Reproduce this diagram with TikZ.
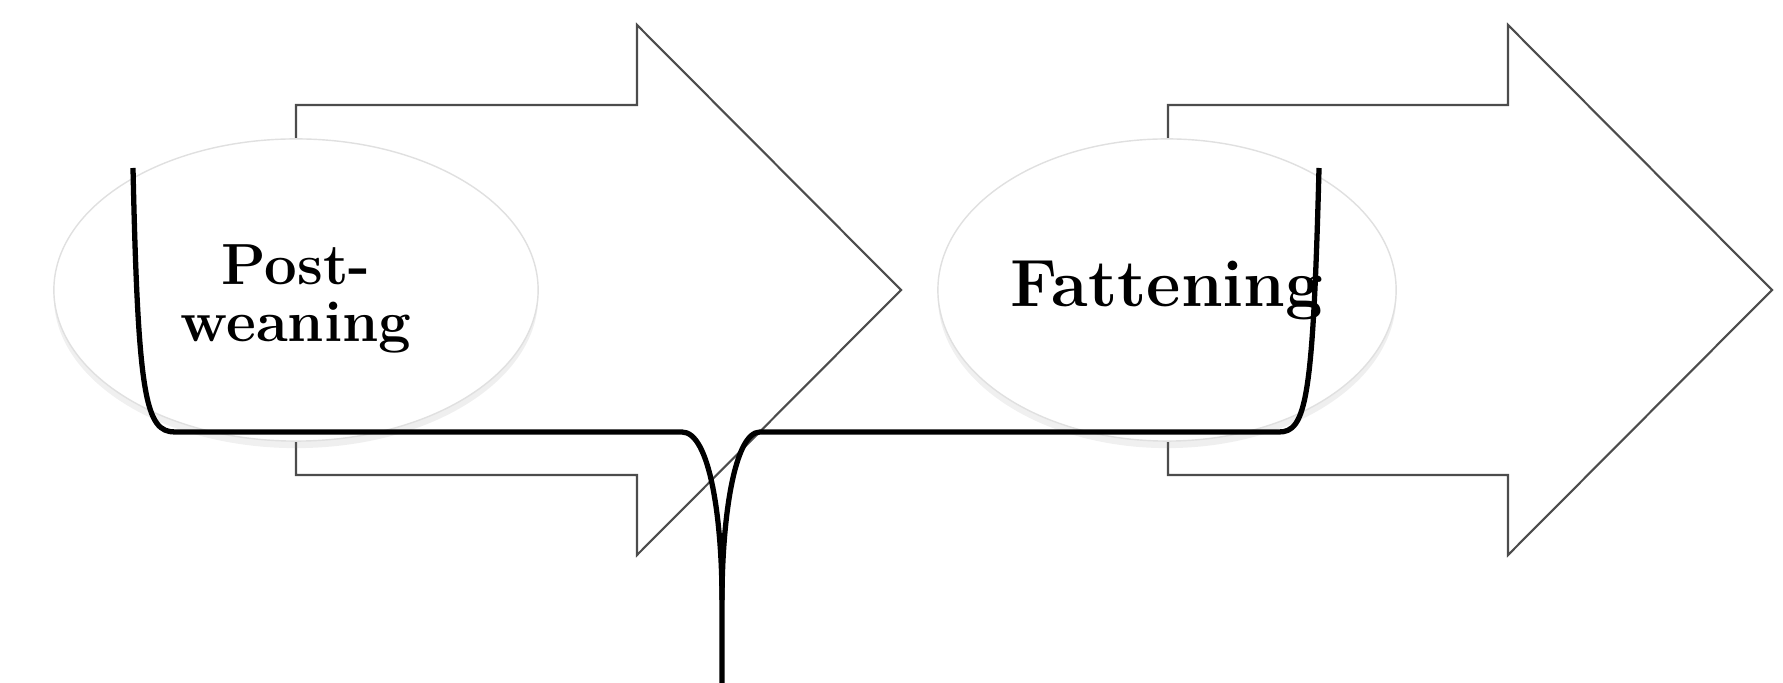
\documentclass[tikz,border=0pt]{standalone}
\usepackage{tikz}
\usetikzlibrary{shapes.geometric,shadows}

\begin{document}
\begin{tikzpicture}[x=0.01cm,y=-0.01cm,
    stagearrow/.style ={draw=black!70, line width=0.6pt, fill=white},
    stage/.style ={ellipse, draw=black!12, fill=white, inner sep=0pt,
      align=center,
      drop shadow={opacity=0.12, shadow xshift=0pt, shadow yshift=-2pt}},
    brace/.style ={line width=1.5pt, line join=round}]
   \useasboundingbox (0,0) rectangle (1783,683);
   % the two block arrows
   \draw[stagearrow] (296,105) -- (637,105) -- (637,25) -- (901,290)
      -- (637,555) -- (637,475) -- (296,475) -- cycle;
   \draw[stagearrow] (1168,105) -- (1508,105) -- (1508,25) -- (1772,290)
      -- (1508,555) -- (1508,475) -- (1168,475) -- cycle;
   % the stages
   \node[stage, minimum width=4.84cm, minimum height=3.02cm,
      label={[align=center, yshift=-0.09cm,
        font=\bfseries\fontsize{16.5}{16}\selectfont]center:Post-\\weaning}]
      (P) at (296,290) {};
   \node[stage, minimum width=4.58cm, minimum height=3.02cm,
      font=\bfseries\fontsize{19}{20}\selectfont] (F) at (1167,290)
      {Fattening};
   % brace under both stages
   \draw[brace] (133,168) .. controls (138,400) and (146,432) .. (175,432)
      -- (682,432) .. controls (710,432) and (722,520) .. (722,600) -- (722,683);
   \draw[brace] (722,600) .. controls (722,520) and (734,432) .. (760,432)
      -- (1279,432) .. controls (1306,432) and (1313,400) .. (1319,168);
 \end{tikzpicture}
\end{document}
